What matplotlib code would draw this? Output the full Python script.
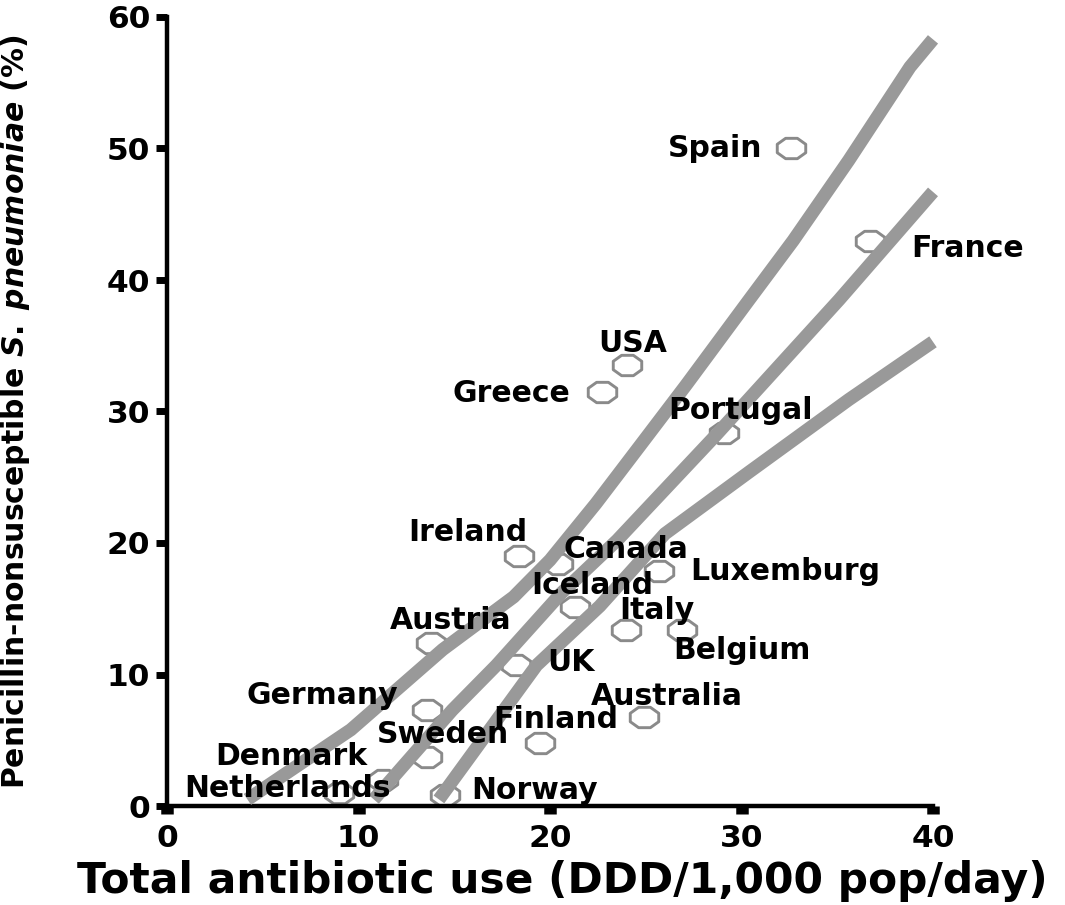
import numpy as np
import matplotlib
matplotlib.use("Agg")
import matplotlib.pyplot as plt
from matplotlib.path import Path

# ---------------- data ----------------
countries = ["Spain", "France", "USA", "Greece", "Portugal", "Ireland", "Canada",
             "Luxemburg", "Iceland", "Italy", "Belgium", "Austria", "UK", "Germany",
             "Australia", "Finland", "Sweden", "Denmark", "Netherlands", "Norway"]
use_ddd = [32.6, 36.7, 24.0, 22.7, 29.1, 18.4, 20.4,
           25.7, 21.3, 23.96, 26.9, 13.8, 18.2, 13.6,
           24.9, 19.5, 13.6, 11.3, 9.0, 14.5]
pnsp_pct = [50.0, 43.0, 33.5, 31.5, 28.4, 19.0, 18.4,
            17.9, 15.1, 13.4, 13.4, 12.4, 10.7, 7.3,
            6.8, 4.8, 3.7, 2.0, 1.0, 0.8]
# label centre positions (data units)
label_x = [28.6, 41.8, 24.3, 18.0, 29.95, 15.7, 23.95,
           32.3, 22.2, 25.6, 30.0, 14.8, 21.1, 8.1,
           26.1, 20.3, 14.4, 6.5, 6.3, 19.2]
label_y = [50.0, 42.4, 35.2, 31.4, 30.1, 20.8, 19.5,
           17.8, 16.8, 14.9, 11.8, 14.1, 10.9, 8.4,
           8.3, 6.6, 5.4, 3.8, 1.3, 1.2]

# three grey lines (upper band, fitted line, lower band)
upper_x = [4.2, 9.6, 14.4, 18.1, 20.0, 22.4, 24.7, 27.1, 30.4, 32.7, 35.6, 38.8, 40.0]
upper_y = [0.5, 5.8, 11.9, 15.9, 18.7, 23.0, 27.4, 32.0, 38.5, 43.0, 49.1, 56.2, 58.3]
fit_x = [10.8, 14.9, 17.2, 20.6, 23.5, 28.6, 35.1, 40.0]
fit_y = [0.5, 7.3, 10.7, 16.2, 20.2, 28.1, 38.5, 46.7]
lower_x = [14.2, 19.3, 22.6, 26.0, 30.4, 35.6, 40.0]
lower_y = [0.5, 10.7, 15.2, 20.7, 25.4, 30.9, 35.3]

x_ticks = [0, 10, 20, 30, 40]
y_ticks = [0, 10, 20, 30, 40, 50, 60]

# ---------------- style ----------------
plt.rcParams['font.family'] = ['DejaVu Sans']
plt.rcParams['font.weight'] = 'bold'
plt.rcParams['mathtext.fontset'] = 'custom'
plt.rcParams['mathtext.it'] = 'DejaVu Sans:italic:bold'
plt.rcParams['mathtext.rm'] = 'DejaVu Sans:bold'

fig = plt.figure(figsize=(10.65, 9.05), dpi=100)
ax = fig.add_axes([167/1065, 1-806/905, 766/1065, 789/905])

# stretched octagon marker
ang = np.deg2rad(22.5 + 45*np.arange(8))
verts = np.column_stack([1.4*np.cos(ang), np.sin(ang)])
verts = np.vstack([verts, verts[:1]])
codes = [Path.MOVETO] + [Path.LINETO]*7 + [Path.CLOSEPOLY]
octagon = Path(verts, codes)

ax.plot(use_ddd, pnsp_pct, linestyle='none', marker=octagon, markersize=20.5,
        markerfacecolor='white', markeredgecolor='#8a8a8a', markeredgewidth=2.1,
        zorder=2, clip_on=False)

for lx, ly in [(upper_x, upper_y), (fit_x, fit_y), (lower_x, lower_y)]:
    ax.plot(lx, ly, color='#999999', linewidth=9.5, solid_capstyle='butt',
            solid_joinstyle='round', zorder=3, clip_on=False)

for name, tx, ty in zip(countries, label_x, label_y):
    ax.text(tx, ty, name, ha='center', va='center', fontsize=21.5,
            fontweight='bold', color='black', zorder=4, clip_on=False)

ax.set_xlim(0, 40)
ax.set_ylim(0, 60)
ax.set_xticks(x_ticks)
ax.set_yticks(y_ticks)
ax.tick_params(axis='x', direction='out', length=6, width=9, pad=7,
               labelsize=22.5, colors='black')
ax.tick_params(axis='y', direction='out', length=8, width=5, pad=4,
               labelsize=22.5, colors='black')
for lab in ax.get_xticklabels() + ax.get_yticklabels():
    lab.set_fontweight('bold')

for s in ['top', 'right']:
    ax.spines[s].set_visible(False)
for s in ['left', 'bottom']:
    ax.spines[s].set_linewidth(3.2)

ax.set_xlabel('Total antibiotic use (DDD/1,000 pop/day)', fontsize=30.5,
              fontweight='bold')
ax.xaxis.set_label_coords(0.516, -0.068)
ax.set_ylabel('Penicillin-nonsusceptible $\\mathit{S.\\;pneumoniae}$ (%)',
              fontsize=21.5, fontweight='bold')
ax.yaxis.set_label_coords(-0.176, 0.5)

fig.savefig('out.png', dpi=100)
